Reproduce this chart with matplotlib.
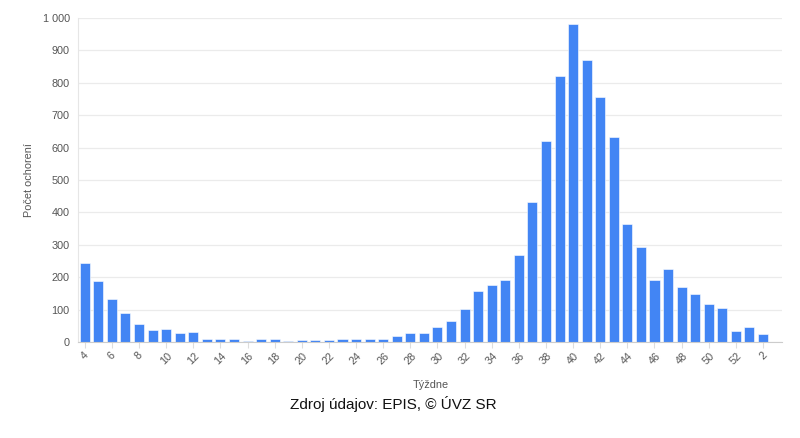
import matplotlib
matplotlib.use("Agg")
import matplotlib.pyplot as plt
from matplotlib.ticker import FuncFormatter

plt.rcParams['font.family'] = ['Liberation Sans', 'DejaVu Sans']

weeks = [str(w) for w in range(4, 53)] + ["1", "2"]
cases = [245, 187, 132, 89, 55, 37, 40, 27, 31, 10, 11, 8, 2, 11, 9, 3, 6, 5, 6,
         10, 10, 11, 9, 20, 28, 28, 45, 65, 102, 157, 176, 192, 268, 432, 621,
         822, 981, 871, 757, 632, 365, 293, 190, 227, 170, 147, 118, 106, 34, 46, 26]

fig = plt.figure(figsize=(8, 4.38), dpi=100)
ax = fig.add_axes([0.0975, 0.219, 0.88, 0.74])
x = list(range(len(weeks)))
ax.bar(x, cases, width=0.74, color='#4285F4', edgecolor='white', linewidth=0.4, zorder=3)

ax.set_ylim(0, 1000)
ax.set_xlim(-0.5, len(weeks) + 0.4)
ax.set_yticks(range(0, 1001, 100))
ax.yaxis.set_major_formatter(FuncFormatter(lambda v, p: f"{int(v):,}".replace(",", " ")))
ax.grid(axis='y', color='#ebebeb', linewidth=0.9, zorder=0)
ax.set_xticks(x[::2])
ax.set_xticklabels(weeks[::2], rotation=45, ha='center', va='top')
ax.tick_params(axis='x', length=4, width=0.8, color='#dddddd', labelsize=7.8,
               labelcolor='#555555', pad=2)
ax.tick_params(axis='y', length=0, labelsize=7.8, labelcolor='#555555', pad=6)
for s in ['top', 'right']:
    ax.spines[s].set_visible(False)
ax.spines['left'].set_color('#e6e6e6')
ax.spines['bottom'].set_color('#cccccc')
ax.spines['bottom'].set_zorder(4)

ax.set_ylabel('Počet ochorení', fontsize=7.8, color='#555555', labelpad=6)
fig.text(0.538, 0.122, 'Týždne', ha='center', va='center', fontsize=7.8, color='#555555')
fig.text(0.492, 0.077, 'Zdroj údajov: EPIS, © ÚVZ SR', ha='center', va='center', fontsize=11, color='#111111')

fig.savefig('out.png', dpi=100)
